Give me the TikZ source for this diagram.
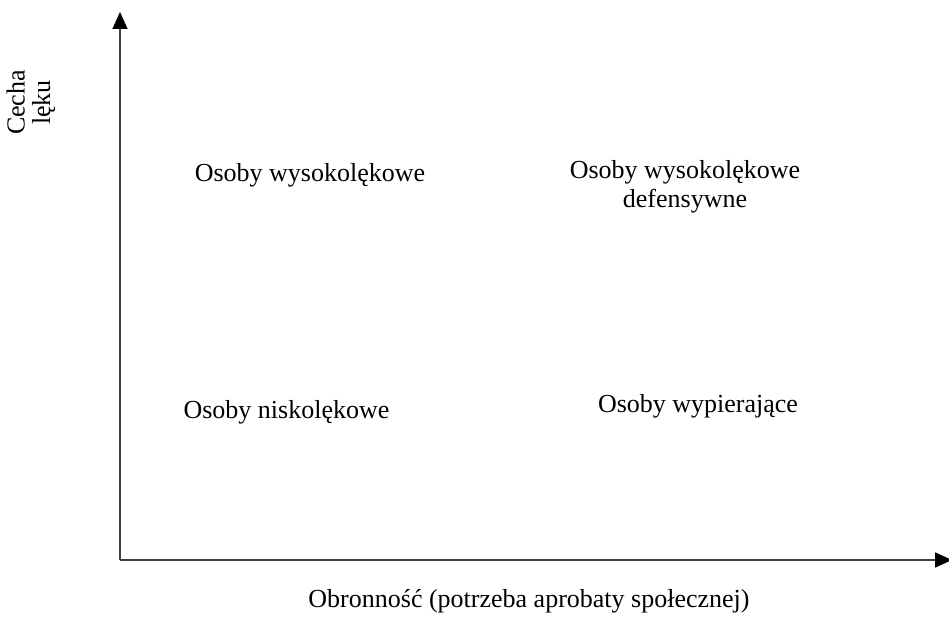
\documentclass[tikz,border=0pt]{standalone}
\usepackage{fontspec}
\setmainfont{Liberation Serif}
\usetikzlibrary{arrows.meta}
\begin{document}
\begin{tikzpicture}[x=1pt,y=1pt,
  axis/.style={draw=black!75, line width=1.7pt, -{Triangle[length=17pt,width=15pt,fill=black,color=black]}},
  lbl/.style={inner sep=0pt, font=\fontsize{26}{29}\selectfont}]
\useasboundingbox (0,0) rectangle (949,624);
\coordinate (o) at (120,64);
\coordinate (ytip) at (120,612);
\coordinate (xtip) at (952,64);
\draw[axis] (o) -- (ytip);
\draw[axis] (o) -- (xtip);
\node[lbl, anchor=base] (q1) at (310,442) {Osoby wysokolękowe};
\node[lbl, align=center] (q2) at (685,437.5) {Osoby wysokolękowe\\defensywne};
\node[lbl, anchor=base] (q3) at (286.5,206) {Osoby niskolękowe};
\node[lbl, anchor=base] (q4) at (698,212) {Osoby wypierające};
\node[lbl, anchor=base] (xl) at (529,17) {Obronność (potrzeba aprobaty społecznej)};
\node[lbl, align=center, rotate=90, font=\fontsize{26}{25.5}\selectfont] (yl) at (31,521.5) {Cecha\\lęku};
\end{tikzpicture}
\end{document}
